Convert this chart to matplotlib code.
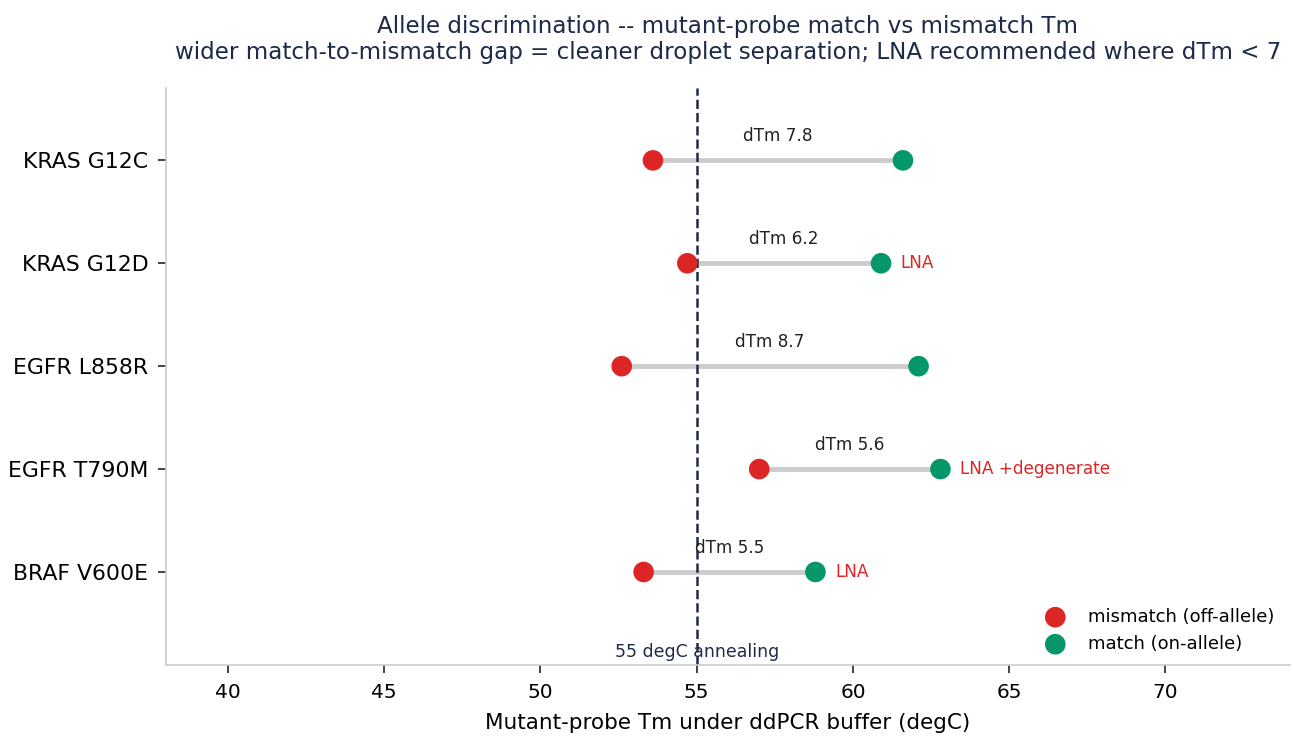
import matplotlib
matplotlib.use("Agg")
import matplotlib.pyplot as plt

# data
assays = ["KRAS G12C", "KRAS G12D", "EGFR L858R", "EGFR T790M", "BRAF V600E"]
tm_mismatch = [53.6, 54.7, 52.6, 57.0, 53.3]
tm_match = [61.6, 60.9, 62.1, 62.8, 58.8]
dtm_labels = [7.8, 6.2, 8.7, 5.6, 5.5]
notes = ["", "LNA", "", "LNA +degenerate", "LNA"]
anneal_temp = 55

RED = "#dc2626"
GREEN = "#059669"
NAVY = "#1e2a4a"

fig, ax = plt.subplots(figsize=(12.93, 7.36), dpi=100)

n = len(assays)
ypos = [n - 1 - i for i in range(n)]

for i in range(n):
    y = ypos[i]
    ax.plot([tm_mismatch[i], tm_match[i]], [y, y], color="#cccccc", lw=3.5,
            solid_capstyle="round", zorder=1)
    mid = (tm_mismatch[i] + tm_match[i]) / 2
    ax.annotate(f"dTm {dtm_labels[i]}", (mid, y), xytext=(0, 11),
                textcoords="offset points", ha="center", va="bottom",
                fontsize=12.2, color="#222222")
    if notes[i]:
        ax.annotate(notes[i], (tm_match[i], y), xytext=(14, 0),
                    textcoords="offset points", ha="left", va="center",
                    fontsize=12.2, color=RED)

ax.scatter(tm_mismatch, ypos, s=220, color=RED, zorder=3,
           label="mismatch (off-allele)", edgecolors="none")
ax.scatter(tm_match, ypos, s=220, color=GREEN, zorder=3,
           label="match (on-allele)", edgecolors="none")

ax.axvline(anneal_temp, color=NAVY, ls="--", lw=1.8, zorder=2)
ax.text(anneal_temp, -0.78, f"{anneal_temp} degC annealing", ha="center",
        va="center", fontsize=12.5, color=NAVY)

ax.set_xlim(38, 74)
ax.set_ylim(-0.9, 4.7)
ax.set_yticks(ypos)
ax.set_yticklabels(assays, fontsize=15.8)
ax.set_xticks([40, 45, 50, 55, 60, 65, 70])
ax.tick_params(axis="x", labelsize=14.5, length=6, width=1.2, pad=7,
               color="#222222")
ax.tick_params(axis="y", length=5.5, width=1.2, pad=7, color="#222222")
ax.set_xlabel("Mutant-probe Tm under ddPCR buffer (degC)", fontsize=15.5,
              labelpad=8)

for s in ["top", "right"]:
    ax.spines[s].set_visible(False)
for s in ["left", "bottom"]:
    ax.spines[s].set_color("#cccccc")
    ax.spines[s].set_linewidth(1.2)

ax.set_title("Allele discrimination -- mutant-probe match vs mismatch Tm\n"
             "wider match-to-mismatch gap = cleaner droplet separation; "
             "LNA recommended where dTm < 7",
             fontsize=16.6, color=NAVY, pad=21)

ax.legend(loc="lower right", frameon=False, fontsize=13,
          bbox_to_anchor=(1.0, -0.008))

fig.subplots_adjust(left=0.128, right=0.998, top=0.88, bottom=0.097)
fig.savefig("out.png", dpi=100)
